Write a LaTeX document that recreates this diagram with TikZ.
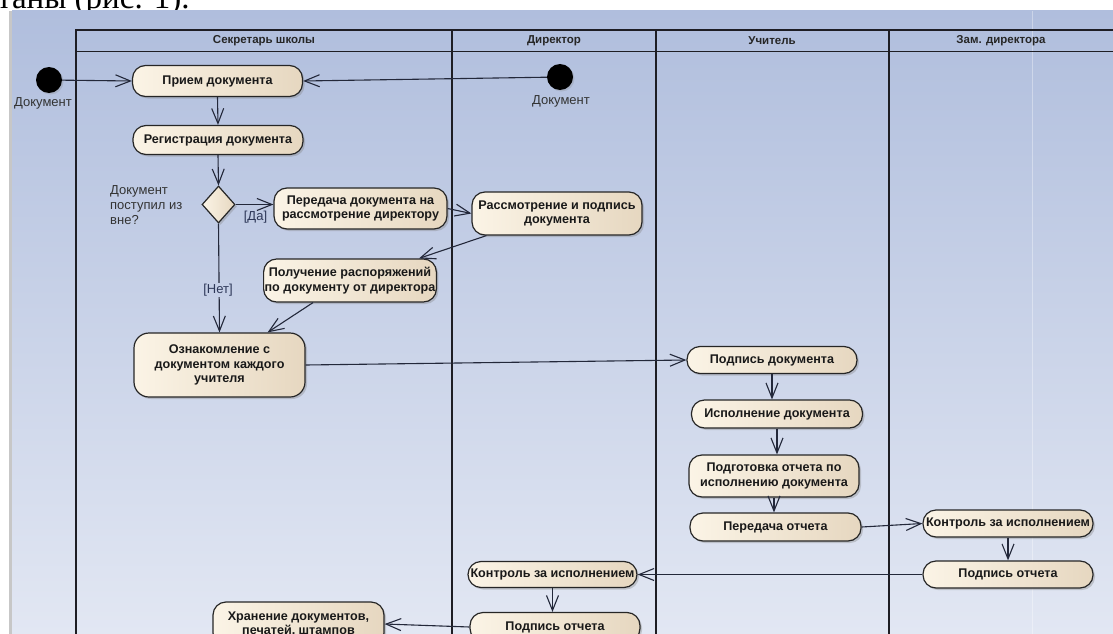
\documentclass[tikz,border=0pt]{standalone}
\usepackage{fontspec}
\setmainfont{Liberation Sans}
\newfontfamily\capfont{Liberation Serif}
\usetikzlibrary{arrows.meta,shapes.geometric,shadows,calc}
\definecolor{bgtop}{RGB}{176,190,221}
\definecolor{bgbot}{RGB}{226,231,243}
\definecolor{lanecol}{RGB}{30,30,36}
\definecolor{edgecol}{RGB}{35,40,58}
\definecolor{actA}{RGB}{251,244,230}
\definecolor{actB}{RGB}{230,215,192}
\definecolor{guardcol}{RGB}{45,55,88}
\definecolor{nolbl}{RGB}{198,208,231}
\begin{document}
\begin{tikzpicture}[x=1pt,y=-1pt,
  act/.style={draw=black!85, line width=1.2pt, rounded corners=13pt,
    left color=actA, right color=actB, minimum width=170pt, minimum height=29pt,
    inner sep=1pt, align=center, text=black!90,
    font=\bfseries\fontsize{12.6}{14.5}\selectfont,
    drop shadow={shadow xshift=2pt, shadow yshift=-2pt, opacity=0.35}},
  flow/.style={draw=edgecol, line width=1.1pt,
    -{Straight Barb[length=15pt,width=12pt,line width=1.1pt]}},
  lane/.style={draw=lanecol, line width=1.5pt},
  hdr/.style={font=\bfseries\fontsize{11.5}{13}\selectfont, text=black!85, inner sep=0pt},
  lbl/.style={font=\fontsize{13}{15}\selectfont, text=black!80, inner sep=0pt},
  guard/.style={font=\fontsize{13}{15}\selectfont, text=guardcol, inner sep=1pt},
  startnode/.style={circle, fill=black, minimum size=26pt, inner sep=0pt,
    drop shadow={shadow xshift=1.5pt, shadow yshift=-1.5pt, opacity=0.25}},
  decision/.style={diamond, draw=black!85, line width=1.2pt, left color=actA, right color=actB,
    minimum width=33pt, minimum height=37pt, inner sep=0pt,
    drop shadow={shadow xshift=2pt, shadow yshift=-2pt, opacity=0.35}}
]
\useasboundingbox (0,0) rectangle (1113,634);
% cut-off caption text above the diagram
\node[anchor=base west, inner sep=0pt, font=\capfont\fontsize{33}{33}\selectfont] (cap) at (-3,9) {таны (рис. 1).};
% background
\shade[top color=bgtop, bottom color=bgbot] (12,11) rectangle (1113,634);
\fill[black!22] (9,11) rectangle (12,634);
\draw[white, opacity=0.35, line width=0.8pt] (1032,11) -- (1032,634);
% swimlanes
\draw[lane] (76,634) -- (76,30) -- (1113,30);
\draw[lane] (76,51.5) -- (1113,51.5);
\foreach \xx in {452,656,889} {\draw[lane] (\xx,30) -- (\xx,634);}
\node[hdr] (h1) at (264,41) {Секретарь школы};
\node[hdr] (h2) at (554,41) {Директор};
\node[hdr] (h3) at (772,41) {Учитель};
\node[hdr] (h4) at (1001,41) {Зам. директора};
% start nodes
\node[startnode] (s1) at (49,80) {};
\node[lbl] (s1l) at (43,103) {Документ};
\node[startnode] (s2) at (560,77) {};
\node[lbl] (s2l) at (561,101) {Документ};
% activities
\node[act, minimum height=31pt] (prm) at (217.5,81) {Прием документа};
\node[act] (reg) at (218,140) {Регистрация документа};
\node[decision] (dia) at (218.5,204.5) {};
\node[lbl, anchor=west, align=left] (q) at (110,205) {Документ\\поступил из\\вне?};
\node[act, minimum width=173pt, minimum height=41pt] (per) at (360.5,208.5) {Передача документа на\\рассмотрение директору};
\node[act, minimum height=43pt] (ras) at (557,213.5) {Рассмотрение и подпись\\документа};
\node[act, minimum height=43pt] (pol) at (350,280.5) {Получение распоряжений\\по документу от директора};
\node[act, minimum width=171pt, minimum height=64pt, rounded corners=15pt] (ozn) at (219.5,365) {Ознакомление с\\документом каждого\\учителя};
\node[act, minimum height=27pt] (pdd) at (772,360) {Подпись документа};
\node[act, minimum width=171pt, minimum height=28pt] (isp) at (777,414) {Исполнение документа};
\node[act, minimum height=42pt] (pod) at (774,476) {Подготовка отчета по\\исполнению документа};
\node[act, minimum width=171pt, minimum height=28pt] (peo) at (775.5,527) {Передача отчета};
\node[act, minimum height=27pt] (kz) at (1008,523.5) {Контроль за исполнением};
\node[act, minimum height=27pt] (pz) at (1008,574.5) {Подпись отчета};
\node[act, minimum width=169pt, minimum height=26pt] (kd) at (552.5,574.5) {Контроль за исполнением};
\node[act, minimum height=29pt] (pd) at (555,627) {Подпись отчета};
\node[act, minimum width=171pt, minimum height=44pt] (xr) at (298.5,624) {Хранение документов,\\печатей, штампов};
% flows
\draw[flow] (s1) -- (prm.west);
\draw[flow] (s2) -- (prm.east);
\draw[flow] (prm.south) -- (reg.north);
\draw[flow] (reg.south) -- (dia.north);
\draw[flow] (dia.east) -- (dia.east -| per.west);
\node[guard] (yes) at (255.5,217) {[Да]};
\draw[flow] (per.east) -- (ras.west);
\draw[flow] ($(ras.south west)+(15,0)$) -- ($(pol.north east)+(-18,0)$);
\draw[flow] ($(pol.south west)+(50,0)$) -- ($(ozn.north east)+(-38,0)$);
\draw[flow] (dia.south) -- (ozn.north);
\node[guard, fill=nolbl] (no) at (218,290) {[Нет]};
\draw[flow] (ozn.east) -- (pdd.west);
\draw[flow] (pdd.south) -- (pdd.south |- isp.north);
\draw[flow] (isp.south) -- (isp.south |- pod.north);
\draw[flow] (pod.south) -- (pod.south |- peo.north);
\draw[flow] (peo.east) -- (kz.west);
\draw[flow] (kz.south) -- (pz.north);
\draw[flow] (pz.west) -- (kd.east);
\draw[flow] (kd.south) -- (kd.south |- pd.north);
\draw[flow] (pd.west) -- (xr.east);
\end{tikzpicture}
\end{document}
